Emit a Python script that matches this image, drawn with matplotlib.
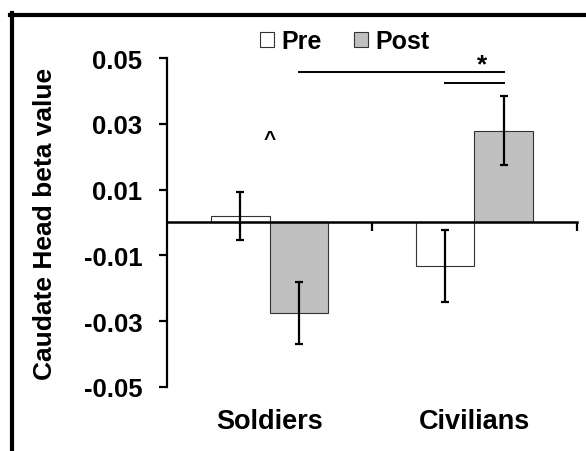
import numpy as np
import matplotlib
matplotlib.use('Agg')
import matplotlib.pyplot as plt
from matplotlib.patches import Patch
from matplotlib.lines import Line2D
from matplotlib.transforms import blended_transform_factory

plt.rcParams['font.family'] = 'Liberation Sans'
plt.rcParams['font.weight'] = 'bold'

# Mean caudate head beta values with error bars
groups = ['Soldiers', 'Civilians']
pre_means = [0.002, -0.0133]
pre_err = [0.0072, 0.011]
post_means = [-0.0275, 0.028]
post_err = [0.0095, 0.0104]
yticks = [-0.05, -0.03, -0.01, 0.01, 0.03, 0.05]

fig = plt.figure(figsize=(5.86, 4.52), dpi=100)
ax = fig.add_axes([0.2855, 0.1423, 0.6986, 0.7265])

x = np.arange(len(groups))
w = 0.286
err_kw = dict(ecolor='black', elinewidth=1.6, capsize=3, capthick=1.6)
ax.bar(x - w / 2, pre_means, w, yerr=pre_err, color='white', edgecolor='#333333',
       linewidth=0.8, error_kw=err_kw, label='Pre', zorder=2)
ax.bar(x + w / 2, post_means, w, yerr=post_err, color='#c0c0c0', edgecolor='#333333',
       linewidth=0.8, error_kw=err_kw, label='Post', zorder=2)

ax.set_xlim(-0.5, 1.5)
ax.set_ylim(-0.05, 0.05)

# axis styling: left spine plus the zero line as x axis
ax.spines['top'].set_visible(False)
ax.spines['right'].set_visible(False)
ax.spines['bottom'].set_position(('data', 0))
ax.spines['left'].set_linewidth(1.6)
ax.spines['bottom'].set_linewidth(1.8)
ax.spines['bottom'].set_zorder(3)

ax.set_yticks(yticks)
ax.set_yticklabels([f'{v:.2f}' for v in yticks])
ax.tick_params(axis='y', direction='out', length=6, width=1.6, labelsize=18.5, pad=12)
ax.set_xticks([0.5, 1.5])
ax.set_xticklabels([])
ax.tick_params(axis='x', direction='out', length=6.5, width=1.6)

trans = blended_transform_factory(ax.transData, ax.transAxes)
for xi, name in zip(x, groups):
    ax.text(xi, -0.1035, name, transform=trans, ha='center', va='center',
            fontsize=19.5, fontweight='bold')

ax.set_ylabel('Caudate Head beta value', fontsize=19, fontweight='bold', labelpad=19)

# significance markers
ax.plot([w / 2, 1 + w / 2], [0.0458, 0.0458], color='black', lw=1.4)
ax.plot([1 - w / 2, 1 + w / 2], [0.0424, 0.0424], color='black', lw=1.4)
ax.text(1.036, 0.0482, '*', ha='center', va='center', fontsize=19, fontweight='bold')
ax.text(0.0, 0.0255, '^', ha='center', va='center', fontsize=15, fontweight='bold')

handles = [Patch(facecolor='white', edgecolor='#333333', linewidth=0.8),
           Patch(facecolor='#c0c0c0', edgecolor='#333333', linewidth=0.8)]
fig.legend(handles, ['Pre', 'Post'], loc='center', bbox_to_anchor=(0.588, 0.907),
           ncol=2, frameon=False, handlelength=0.55, handleheight=0.55,
           handletextpad=0.3, columnspacing=1.3, prop={'size': 18, 'weight': 'bold'})

# heavy frame along the top and left edges
fig.add_artist(Line2D([10 / 586, 1.0], [1 - 16 / 452, 1 - 16 / 452],
                      transform=fig.transFigure, color='black', lw=3))
fig.add_artist(Line2D([12 / 586, 12 / 586], [0.0, 1 - 14 / 452],
                      transform=fig.transFigure, color='black', lw=3))

fig.savefig('out.png', dpi=100)
